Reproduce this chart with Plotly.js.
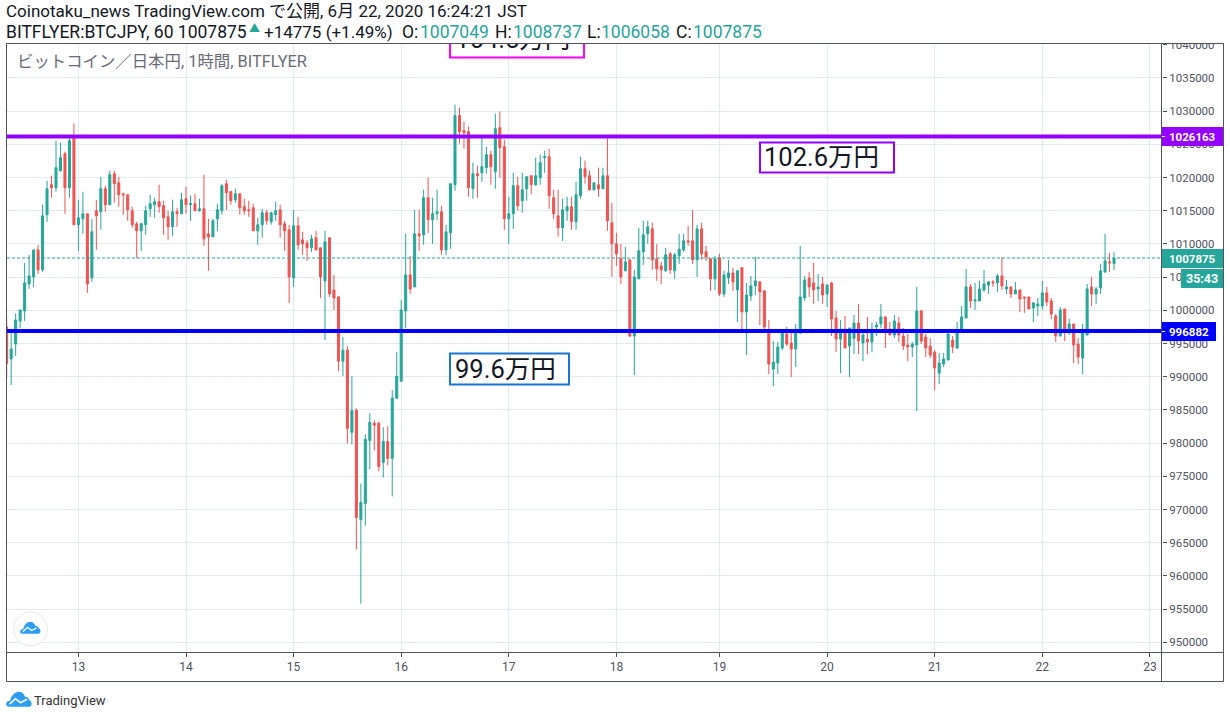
<!DOCTYPE html>
<html><head><meta charset="utf-8">
<script src="https://cdn.plot.ly/plotly-3.0.1.min.js"></script>
<style>html,body{margin:0;padding:0;background:#fff;overflow:hidden}#c{width:1230px;height:718px}</style>
</head><body><div id="c"></div>
<script>
const high=[998690,997000,999550,1000050,1007140,1008350,1009100,1009860,1015900,1019520,
1020270,1025550,1025250,1023890,1026210,1028120,1016650,1017860,1014540,1013780,
1016650,1020120,1018760,1021030,1021030,1020120,1017710,1017400,1015590,1013330,
1013180,1015740,1017400,1016950,1018910,1016500,1014990,1016650,1015440,1017710,
1018610,1017250,1017550,1016800,1020420,1013780,1013780,1016050,1019060,1019670,
1018010,1018310,1017550,1016800,1016500,1016050,1013930,1015290,1015140,1014840,
1016350,1015900,1013480,1012880,1015140,1014080,1011820,1010610,1011370,1011970,
1009410,1011970,1010920,1005330,1002160,995960,994600,990070,985240,973920,
981320,984490,983430,983280,982380,982530,987960,993690,1001560,1011520,
1008200,1015140,1015140,1018160,1019970,1016950,1018160,1015740,1012880,1019060,
1030990,1030530,1028420,1027670,1022230,1021780,1026010,1024650,1024040,1029630,
1029930,1025700,1017100,1020720,1020120,1020720,1020120,1020270,1022990,1023440,
1024040,1024350,1018160,1018160,1016800,1017100,1017100,1019370,1023140,1022530,
1021030,1019210,1021480,1021480,1026310,1016200,1011670,1010010,1009560,1007600,
1006090,1012420,1013480,1013480,1013180,1010010,1007290,1009410,1008800,1008650,
1011520,1011520,1012730,1015140,1012880,1013180,1009710,1007900,1008200,1008500,
1005940,1007600,1006390,1006090,1006540,1004120,1005180,1008050,1004430,1003070,
998540,995370,995220,997030,997490,997030,997940,1009710,1005180,1005780,
1007140,1005480,1005030,1003820,1004280,999900,998540,999140,997330,999300,
1000960,996580,998990,998090,998240,1000960,999140,998240,999300,998990,
997330,996430,995220,1003520,1000050,996430,995820,994010,993560,993560,
996580,996130,998240,1000650,1006240,1003970,1004120,1004430,1006090,1004430,
1004580,1005480,1008050,1004580,1003520,1004280,1003070,1002010,1002010,1001260,
1001860,1004430,1003520,1001860,999450,1000500,1000200,998690,997940,995820,
997940,1003970,1005030,1003520,1006990,1011520,1008650,1008737];
const low=[989950,988750,993120,997330,998390,1003220,1003520,1005480,1005780,1013330,
1016950,1017860,1020870,1014540,1016950,1012880,1008950,1011520,1002620,1004280,
1009100,1012120,1014840,1015900,1016200,1015590,1014390,1013480,1012420,1007850,
1008950,1011370,1014080,1013930,1014690,1011370,1010610,1011220,1012580,1014540,
1014540,1013480,1014990,1014840,1009710,1005940,1011070,1011970,1014390,1015140,
1015900,1016200,1014390,1014390,1014080,1011970,1009860,1010920,1012880,1012880,
1013480,1010920,1008950,1001110,1003520,1009100,1008350,1007440,1008800,1009100,
1001860,995520,1002010,1000050,990830,990070,979960,979810,963970,955820,
967590,976040,978900,975740,974830,976640,971960,986750,989320,997330,
1002460,1003520,1008950,1009860,1011670,1010010,1013630,1008350,1008350,1009260,
1018010,1025100,1024350,1017100,1016800,1016950,1019370,1020570,1018910,1018310,
1019970,1012120,1010010,1012270,1014990,1014690,1016500,1017550,1018760,1018910,
1020720,1015290,1013780,1011070,1010460,1013480,1012120,1012120,1016800,1019060,
1018010,1018010,1017100,1018310,1011970,1005030,1006690,1003970,1005940,995980,
990240,1004730,1006840,1010010,1006090,1004430,1003970,1005780,1005480,1004730,
1006990,1008800,1009710,1006990,1005030,1007600,1007440,1002920,1003070,1002160,
1002010,1003970,1002920,998240,997030,993260,1001410,1002310,997790,997030,
990390,988580,990390,994010,994620,989940,991450,996430,1001410,1002010,
1000960,1001410,1000960,1000500,996130,993710,990540,994320,989940,993410,
993410,992350,993410,993710,996130,997330,994320,996280,995820,995220,
994010,992350,992960,984810,994920,992960,992810,987980,988880,991450,
992510,993560,994170,996730,998840,1000350,1000050,1001410,1002770,1002460,
1003520,1002770,1003070,1002460,1001860,1002460,999750,999600,1000200,998240,
999140,1000050,1000650,998690,995220,996130,995370,996280,992050,991900,
990390,996280,1000650,1000960,1002460,1005630,1005780,1006058];
const bodyTop=[997490,994170,998540,1000050,1004120,1005180,1009100,1009100,1014230,1018310,
1018910,1021480,1022990,1023590,1025550,1026210,1013930,1014540,1014540,1011820,
1014990,1018310,1018310,1020420,1020570,1019210,1017550,1017400,1014990,1013030,
1013030,1014990,1016050,1016350,1016350,1015740,1014080,1014840,1014840,1016650,
1016800,1016050,1016050,1015290,1015290,1011520,1013480,1015140,1018760,1019060,
1017860,1017550,1017550,1015590,1015140,1015440,1012880,1014690,1014690,1014690,
1014990,1015140,1013030,1012120,1012730,1012730,1010610,1010160,1010760,1010920,
1009410,1010310,1010920,1003070,1002010,993990,993990,984890,984940,971060,
980560,983130,982980,982980,980260,980260,986750,990070,1000050,1005330,
1005330,1011520,1011520,1016950,1016950,1014540,1014840,1014840,1011820,1019060,
1029330,1029330,1027060,1026910,1020570,1020570,1021630,1023440,1023440,1027360,
1027510,1024650,1014540,1018760,1018760,1018160,1020120,1020270,1020270,1022230,
1023140,1023140,1016950,1014230,1015140,1015590,1015590,1017400,1021330,1021330,
1020270,1019210,1018910,1020270,1020270,1013180,1010010,1007750,1007290,1007600,
1005030,1008950,1011370,1012580,1012270,1007750,1006690,1008350,1008500,1008350,
1009200,1010460,1010460,1010460,1012270,1012270,1008800,1007750,1007750,1007900,
1005330,1005630,1005630,1005940,1006390,1002310,1003670,1004430,1004280,1002920,
997030,992200,994470,996580,996430,995070,996880,1002010,1004580,1004880,
1004120,1003520,1003970,1003820,1004120,998840,997180,997180,997330,998090,
998090,996280,995670,996580,997790,998990,998990,997180,998390,998090,
996130,994770,994920,999900,999900,995980,994620,993710,992050,992660,
996430,995520,996580,998990,1003520,1003520,1001560,1003220,1003970,1004280,
1004280,1005180,1005180,1003520,1003520,1003070,1003070,1002010,1002010,1001110,
1000960,1002620,1002620,1001410,999140,1000050,1000200,997940,997940,994920,
996880,1003220,1003520,1003220,1005940,1007440,1007290,1007875];
const bodyBottom=[991960,992670,994920,998390,999900,1003970,1005030,1006090,1006090,1014390,
1018460,1018460,1021030,1018460,1018460,1012880,1012880,1013780,1003970,1004880,
1014230,1014840,1015900,1015900,1019060,1017400,1017400,1015140,1012880,1011970,
1011970,1012880,1015290,1015900,1015590,1013930,1012580,1012580,1014540,1014540,
1015900,1015900,1014990,1014990,1010760,1011070,1011070,1013780,1014990,1017710,
1016500,1016650,1015440,1014990,1014990,1011970,1011970,1012880,1013480,1013330,
1014390,1012880,1011970,1005030,1004880,1009860,1010010,1009410,1009410,1009100,
1005030,1004430,1002460,1001860,992330,992330,982220,981620,968790,968490,
970910,980410,982680,976490,977090,977700,977700,986750,989320,999900,
1003220,1003520,1011220,1011370,1013630,1013630,1014540,1009100,1009100,1011670,
1018910,1026910,1026760,1018460,1018310,1020270,1020720,1021480,1021630,1020870,
1024500,1013780,1013780,1014540,1015740,1016500,1018310,1018910,1018910,1019970,
1022990,1017250,1014540,1012420,1012420,1014990,1013330,1013330,1017250,1020120,
1018160,1018160,1018310,1018310,1013480,1010010,1008500,1005030,1005940,996130,
996130,1004730,1008800,1011520,1007600,1006240,1006090,1005940,1006090,1005940,
1008200,1009100,1010310,1007600,1007600,1008500,1008050,1004730,1004730,1002460,
1002460,1004880,1004280,1003070,999750,999750,1002160,1003670,1002770,997490,
991900,991150,992050,994320,994920,994170,994170,996580,1001860,1003520,
1003070,1003220,1002310,1002460,998690,995670,995670,994320,994620,995770,
995370,995070,995220,995220,997490,997940,997030,996280,996280,996280,
994620,994470,994470,994770,995370,994320,993260,991300,990540,991900,
992510,994470,994320,996730,998840,1001410,1001410,1001410,1003070,1003820,
1004120,1004120,1003670,1003220,1002460,1002460,1001710,1001860,1000200,1000350,
1000650,1000650,1001260,999450,996130,996130,996880,996880,994770,992960,
992810,996280,1002460,1002460,1003370,1005780,1007140,1007049];
const direction=[
"rggggggrgg","rggrgrggrg","rgrgrrrrrr","ggggrrrgrg","rgrgrrgggr",
"rgrrrrggrg","grrrgrrrgr","rgrrrgrgrg","ggrrgrgggg","rgrgrggrgg",
"grrrgrggrg","rrggrggrgg","grrrggrggr","rgrgrrrrgr","ggggrrrgrg",
"ggrrgrrrgr","ggrgrgggrr","rgggrrgggr","rgrgrrgrgg","rgrgggrrgr",
"rrggrrrrgg","grgggrgggg","rgrgrgrrrg","ggrrrgrgrr","ggrgggrg"].join("");
const tickBars=[0,24,48,72,96,120,143,167,191,215,239];
const tickDays=["13","14","15","16","17","18","19","20","21","22","23"];
const levelPurple=1026163, levelBlue=996882, levelLast=1007875;

const bars=high.map((_,k)=>k-16);
const open=bars.map((_,k)=>direction[k]==="g"?bodyBottom[k]:bodyTop[k]);
const close=bars.map((_,k)=>direction[k]==="g"?bodyTop[k]:bodyBottom[k]);

const W=1230,H=718,L=7,R=68,T=44,B=66;
const PW=W-L-R,PH=H-T-B;
const px=x=>(x-L)/PW, py=y=>1-(y-T)/PH;
const xRange=[-15.93,241.7], yRange=[948540,1040105];
const FONT="Roboto, 'Noto Sans CJK JP', sans-serif";
const GRID="#e1ebf2",AXC="#50535e",TEAL="#26a69a",RED="#ef5350",PUR="#9400ff",BLU="#0000ff",INK="#131722";

const shapes=[];
function rect(x0,y0,x1,y1,fill,line,lw){shapes.push({type:"rect",xref:"paper",yref:"paper",layer:"above",
  x0:px(x0),x1:px(x1),y0:py(y0),y1:py(y1),fillcolor:fill||"rgba(0,0,0,0)",line:{color:line||"rgba(0,0,0,0)",width:lw||0}});}
function seg(x0,y0,x1,y1,c,w){shapes.push({type:"line",xref:"paper",yref:"paper",layer:"above",
  x0:px(x0),x1:px(x1),y0:py(y0),y1:py(y1),line:{color:c,width:w}});}
function hline(v,c,w,dash){shapes.push({type:"line",xref:"paper",yref:"y",layer:"above",x0:0,x1:1,y0:v,y1:v,line:{color:c,width:w,dash:dash||"solid"}});}
function cloud(ox,oy,s,color){
  const P=(a,b)=>px(ox+a*s)+","+py(oy+b*s);
  const d="M"+P(3,15)+" C"+P(-1,15)+" "+P(-1,9)+" "+P(4,9)+" C"+P(5,4)+" "+P(9,0)+" "+P(13,0)+" C"+P(16,0)+" "+P(18,2)+" "+P(19,5)+
    " C"+P(21,5)+" "+P(23,6)+" "+P(23,8)+" C"+P(26,9)+" "+P(27,15)+" "+P(23,15)+" Z";
  shapes.push({type:"path",xref:"paper",yref:"paper",layer:"above",path:d,fillcolor:color,line:{width:0}});
  const z="M"+P(3.5,12.5)+" L"+P(9.5,7)+" L"+P(14.5,11)+" L"+P(21,7.5);
  shapes.push({type:"path",xref:"paper",yref:"paper",layer:"above",path:z,line:{color:"#fff",width:1.6*s}});
}
hline(levelLast,TEAL,1,"3px,2px");
hline(levelPurple,PUR,4);
hline(levelBlue,BLU,4);
rect(450,26,584,57.5,null,"#ff00ff",2);
rect(0,0,W,43,"#fff");
seg(6.5,43.5,1223.5,43.5,AXC,1);
seg(6.5,43,6.5,681.5,AXC,1);
seg(1223.5,43,1223.5,681.5,AXC,1);
seg(6.5,681.5,1223.5,681.5,AXC,1);
seg(6,652.5,1224,652.5,AXC,1);
seg(1161.5,43,1161.5,681.5,AXC,1);
rect(760,142.5,894,172.5,"#fff",PUR,2);
rect(450,353.5,569,384.5,"#fff","#1976d2",2);
rect(1162,127,1223,146,PUR);
seg(1162,136.5,1165,136.5,"#fff",1);
rect(1162,322,1216,341,BLU);
seg(1162,331.5,1165,331.5,"#fff",1);
rect(1162,249,1223,268,TEAL);
rect(1181,269,1223,288,TEAL);
shapes.push({type:"circle",xref:"paper",yref:"paper",layer:"above",x0:px(13.7),x1:px(47.3),y0:py(612),y1:py(645.7),fillcolor:"#fff",line:{color:"#e8e8e8",width:1}});
cloud(20,621.7,0.8,"#2e9ef5");
cloud(6,691.7,1,"#2e9ef5");

const annotations=[];
function note(x,y,text,size,color,anchor){annotations.push({xref:"paper",yref:"paper",x:px(x),y:py(y),text,showarrow:false,
  xanchor:anchor||"left",yanchor:"middle",align:"left",borderpad:0,font:{family:FONT,size,color}});}
note(5,11,"Coinotaku_news TradingView.com で公開, 6月 22, 2020 16:24:21 JST",17,INK);
note(5,32,"BITFLYER:BTCJPY, 60 1007875",17.5,INK);
note(248,29,"▲",11,TEAL);
note(263,32,"+14775 (+1.49%)",17,INK);
note(401,32,"O:",17.5,INK);
note(419,32,"1007049",17.5,TEAL);
note(494,32,"H:",17.5,INK);
note(512,32,"1008737",17.5,TEAL);
note(586,32,"L:",17.5,INK);
note(600,32,"1006058",17.5,TEAL);
note(675,32,"C:",17.5,INK);
note(692,32,"1007875",17.5,TEAL);
note(16,62,"ビットコイン／日本円, 1時間, BITFLYER",16.4,"#6a6d78");
note(763,157,"102.6万円",25.5,INK);
note(454,369,"99.6万円",25.5,INK);
note(33,700,"TradingView",13,"#333");
note(1192.5,136.5,"<b>1026163</b>",11.5,"#fff","center");
note(1189,331.5,"<b>996882</b>",11.5,"#fff","center");
note(1192.5,258.5,"<b>1007875</b>",11.5,"#fff","center");
note(1202,278.5,"<b>35:43</b>",12.5,"#fff","center");

const traces=[{type:"candlestick",x:bars,open,high,low,close,whiskerwidth:0,
  increasing:{line:{color:TEAL,width:1},fillcolor:TEAL},
  decreasing:{line:{color:RED,width:1},fillcolor:RED},hoverinfo:"skip"},
 {type:"scatter",mode:"text",x:[96.9],y:[1040400],text:["104.5万円"],textposition:"middle center",cliponaxis:true,
  textfont:{family:FONT,size:25.5,color:INK},hoverinfo:"skip"}];

const layout={width:W,height:H,margin:{l:L,r:R,t:T,b:B,pad:0},paper_bgcolor:"#fff",plot_bgcolor:"#fff",showlegend:false,boxgap:0.36,
  xaxis:{range:xRange,rangeslider:{visible:false},type:"linear",tickmode:"array",tickvals:tickBars,ticktext:tickDays,
    showgrid:true,gridcolor:GRID,gridwidth:1,zeroline:false,showline:false,ticks:"outside",ticklen:4,tickcolor:AXC,tickwidth:1,
    tickfont:{family:FONT,size:12,color:AXC}},
  yaxis:{range:yRange,side:"right",dtick:5000,tick0:950000,tickformat:"d",showgrid:true,gridcolor:GRID,gridwidth:1,zeroline:false,showline:false,
    ticks:"outside",ticklen:4,tickcolor:AXC,tickwidth:1,tickfont:{family:FONT,size:11.5,color:AXC}},
  shapes,annotations};
Plotly.newPlot("c",traces,layout,{staticPlot:true,displayModeBar:false});
</script></body></html>
